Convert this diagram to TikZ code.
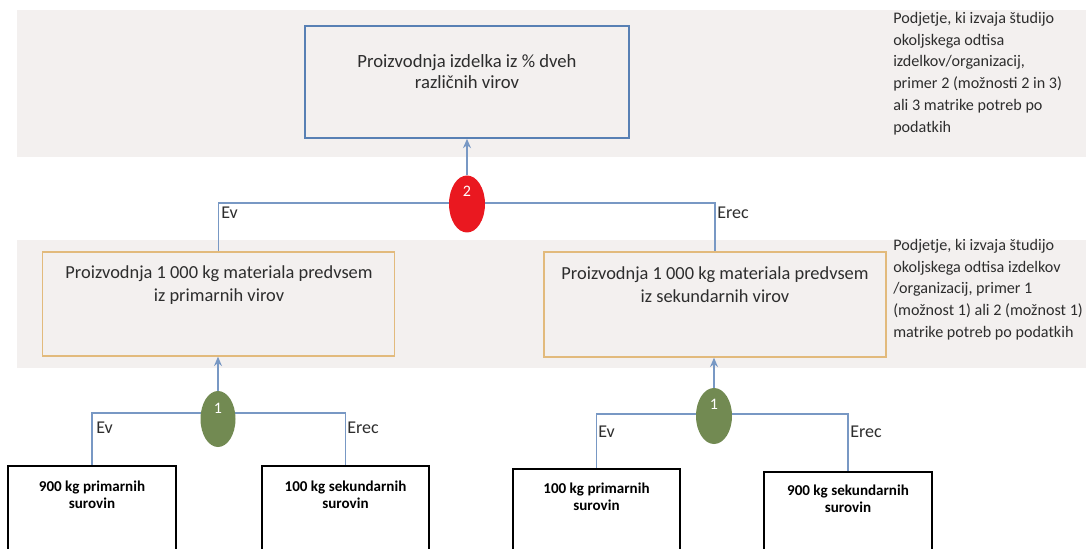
\documentclass[tikz,border=0pt]{standalone}
\usepackage{fontspec}
\setmainfont{Carlito}
\usetikzlibrary{shapes.geometric,arrows.meta}
\definecolor{bandc}{RGB}{243,240,239}
\definecolor{connc}{RGB}{120,152,196}
\definecolor{topc}{RGB}{88,128,180}
\definecolor{orc}{RGB}{226,186,124}
\definecolor{redc}{RGB}{234,24,32}
\definecolor{greenc}{RGB}{114,138,82}
\definecolor{txtc}{RGB}{45,45,45}
\pgfdeclarelayer{bg}
\pgfdeclarelayer{lines}
\pgfsetlayers{bg,lines,main}
\tikzset{
  band/.style={fill=bandc, draw=none},
  topbox/.style={draw=topc, line width=1.3pt, inner sep=0pt},
  midbox/.style={draw=orc, line width=1.1pt, inner sep=0pt},
  lowbox/.style={draw=black, line width=0.9pt, fill=white, inner sep=0pt},
  conn/.style={draw=connc, line width=0.9pt},
  arr/.style={conn, -{Stealth[length=7pt,width=6pt]}},
  redell/.style={ellipse, fill=redc, draw=none, inner sep=0pt},
  greenell/.style={ellipse, fill=greenc, draw=none, inner sep=0pt},
  numtxt/.style={text=white, font=\fontsize{12}{14}\selectfont, inner sep=0pt},
  boxtxt/.style={text=txtc, align=center, inner sep=0pt},
  sidetxt/.style={text=txtc, align=left, inner sep=0pt, anchor=north west, font=\fontsize{12.1}{16.3}\selectfont},
  lbl/.style={text=txtc, inner sep=0pt, anchor=west, font=\fontsize{13.5}{15}\selectfont},
  lowtxt/.style={text=black, align=center, inner sep=0pt, font=\bfseries\fontsize{11.3}{13}\selectfont}
}
\begin{document}
\begin{tikzpicture}[x=0.75pt,y=-0.75pt]
\useasboundingbox (0,0) rectangle (1086,549);
\clip (0,0) rectangle (1086,549);
\begin{pgfonlayer}{bg}
\fill[white] (0,0) rectangle (1086,549);
\fill[band] (17,10) rectangle (1086,157);
\fill[band] (17,240) rectangle (1086,368);
\end{pgfonlayer}
% boxes
\node[topbox, minimum width=243pt, minimum height=84pt] (top) at (467,82) {};
\node[boxtxt, font=\fontsize{14}{15.8}\selectfont] (toptext) at (467,72) {Proizvodnja izdelka iz \% dveh\\različnih virov};
\node[midbox, minimum width=264pt, minimum height=78pt] (m1) at (218.5,304) {};
\node[boxtxt, font=\fontsize{13.8}{17.2}\selectfont] (m1text) at (219,285) {Proizvodnja 1 000 kg materiala predvsem\\iz primarnih virov};
\node[midbox, minimum width=256.5pt, minimum height=78.75pt] (m2) at (715,304.5) {};
\node[boxtxt, font=\fontsize{13.8}{17.2}\selectfont] (m2text) at (715,285) {Proizvodnja 1 000 kg materiala predvsem\\iz sekundarnih virov};
\node[lowbox, minimum width=126pt, minimum height=70.5pt] (b1) at (92,513) {};
\node[lowbox, minimum width=125.25pt, minimum height=70.5pt] (b2) at (345.5,513) {};
\node[lowbox, minimum width=125.25pt, minimum height=68.25pt] (b3) at (596.5,514.5) {};
\node[lowbox, minimum width=126pt, minimum height=66pt] (b4) at (848,516) {};
\node[lowtxt] (b1text) at (92,495) {900 kg primarnih\\surovin};
\node[lowtxt] (b2text) at (345.5,495) {100 kg sekundarnih\\surovin};
\node[lowtxt] (b3text) at (596.5,497) {100 kg primarnih\\surovin};
\node[lowtxt] (b4text) at (848,499) {900 kg sekundarnih\\surovin};
% side texts
\node[sidetxt] (side1) at (893,12) {Podjetje, ki izvaja študijo\\okoljskega odtisa\\izdelkov/organizacij,\\primer 2 (možnosti 2 in 3)\\ali 3 matrike potreb po\\podatkih};
\node[sidetxt] (side2) at (893,239) {Podjetje, ki izvaja študijo\\okoljskega odtisa izdelkov\\/organizacij, primer 1\\(možnost 1) ali 2 (možnost 1)\\matrike potreb po podatkih};
% ellipses
\node[redell, minimum width=27pt, minimum height=42.75pt] (e2) at (467,204) {};
\node[numtxt] (n2) at (467,191) {2};
\node[greenell, minimum width=26.25pt, minimum height=42pt] (g1) at (218,419) {};
\node[numtxt] (n1a) at (218,408) {1};
\node[greenell, minimum width=27pt, minimum height=42pt] (g2) at (714,416) {};
\node[numtxt] (n1b) at (714,404) {1};
% junctions
\coordinate (j0) at (467,203);
\coordinate (j1) at (218,413);
\coordinate (j2) at (714,414);
% labels
\node[lbl] (ev0) at (221,213) {Ev};
\node[lbl] (erec0) at (717,213) {Erec};
\node[lbl] (ev1) at (96,428) {Ev};
\node[lbl] (erec1) at (347,428) {Erec};
\node[lbl] (ev2) at (598,432) {Ev};
\node[lbl] (erec2) at (850,432) {Erec};
% connectors
\begin{pgfonlayer}{lines}
\draw[conn] (m1.north) |- (j0) -| (m2.north);
\draw[conn] (b1.north) |- (j1) -| (b2.north);
\draw[conn] (b3.north) |- (j2) -| (b4.north);
\end{pgfonlayer}
\draw[arr] (e2.north) -- (top.south);
\draw[arr] (g1.north) -- (g1.north |- m1.south);
\draw[arr] (g2.north) -- (g2.north |- m2.south);
\end{tikzpicture}
\end{document}
